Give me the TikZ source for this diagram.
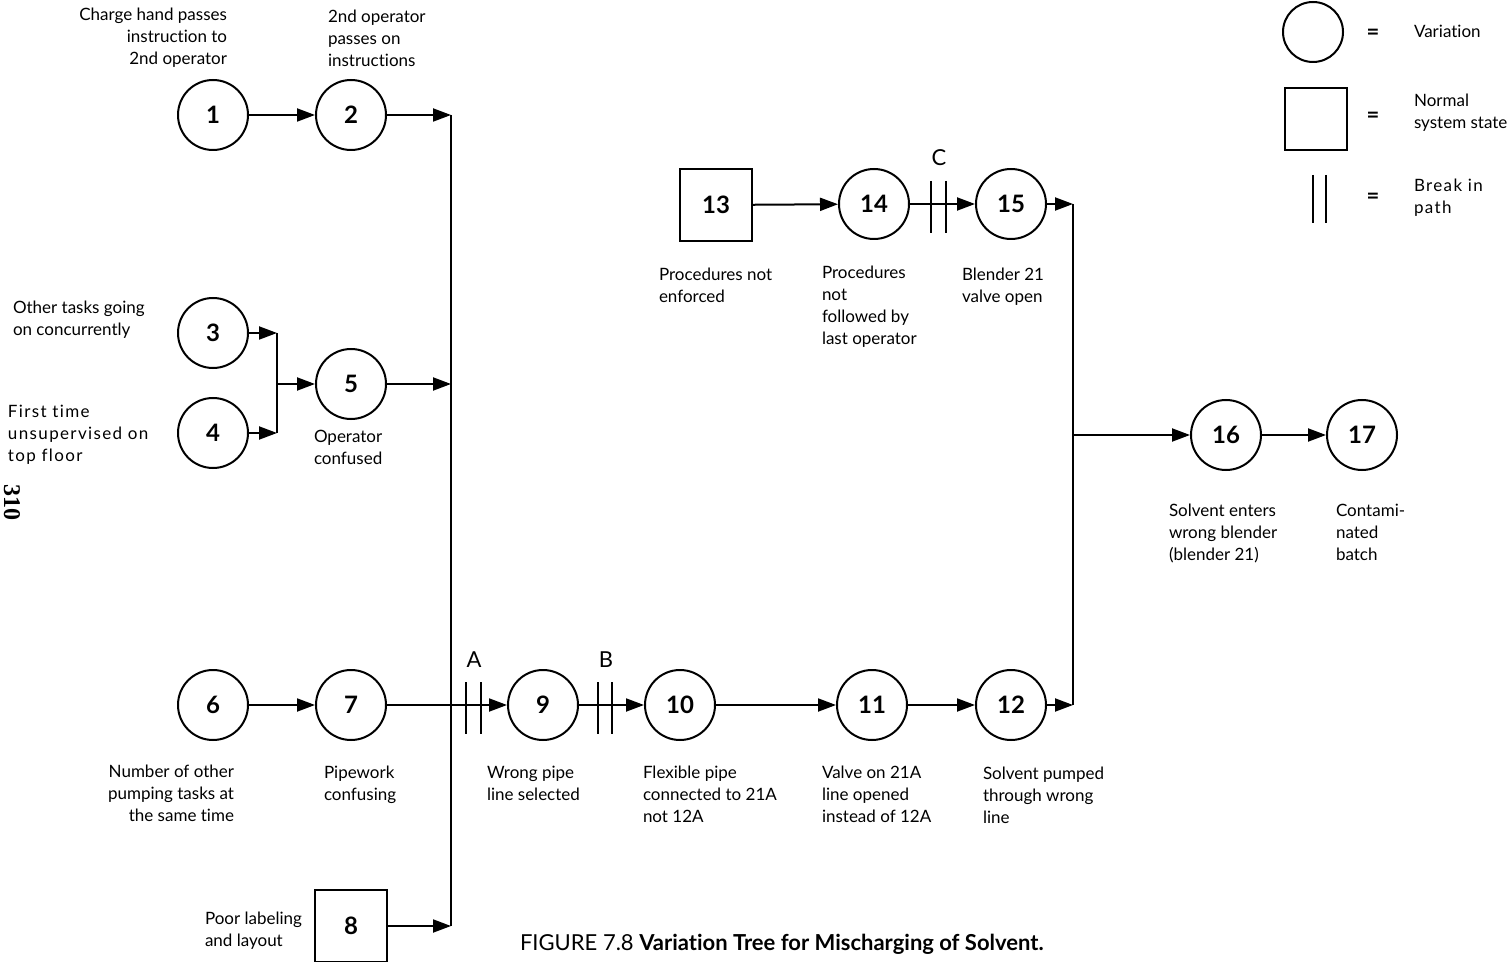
\documentclass[tikz,border=0pt]{standalone}
\usepackage{fontspec}
\setmainfont{Lato}[RawFeature={-liga}]
\usetikzlibrary{arrows.meta}
\begin{document}
\begin{tikzpicture}[x=0.5pt,y=-0.5pt,
  line width=1pt,
  arr/.style={-{Triangle[length=9pt,width=6.5pt]}},
  var/.style={circle,draw,line width=1pt,minimum size=35pt,inner sep=0pt,font=\fontsize{12}{12}\selectfont\bfseries},
  norm/.style={rectangle,draw,line width=1pt,minimum size=36pt,inner sep=0pt,font=\fontsize{12}{12}\selectfont\bfseries},
  lbl/.style={inner sep=0pt,anchor=north west,align=left,font=\fontsize{8.5}{11}\selectfont},
  lblr/.style={inner sep=0pt,anchor=north east,align=right,font=\fontsize{8.5}{11}\selectfont},
  brk/.style={line width=1pt},
  eq/.style={inner sep=0pt,font=\fontsize{11}{11}\selectfont\bfseries},
  letter/.style={inner sep=0pt,font=\fontsize{11}{11}\selectfont}]
\useasboundingbox (0,0) rectangle (1509,962);

% event nodes
\node[var] (n1) at (213,115) {1};
\node[var] (n2) at (351,115) {2};
\node[var] (n3) at (213,333) {3};
\node[var] (n4) at (213,433) {4};
\node[var] (n5) at (351,384) {5};
\node[var] (n6) at (213,705) {6};
\node[var] (n7) at (351,705) {7};
\node[norm] (n8) at (351,926) {8};
\node[var] (n9) at (543,705) {9};
\node[var] (n10) at (680,705) {10};
\node[var] (n11) at (872,705) {11};
\node[var] (n12) at (1011,705) {12};
\node[norm] (n13) at (716,205) {13};
\node[var] (n14) at (874,204) {14};
\node[var] (n15) at (1011,204) {15};
\node[var] (n16) at (1226,435) {16};
\node[var] (n17) at (1362,435) {17};

% junction points
\coordinate (b1) at (451,115);
\coordinate (b5) at (451,384);
\coordinate (b8) at (451,926);
\coordinate (j3) at (277,333);
\coordinate (j4) at (277,433);
\coordinate (j5) at (277,384);
\coordinate (r15) at (1073,204);
\coordinate (r12) at (1073,705);
\coordinate (r16) at (1073,435);

% connectors
\draw[arr] (n1) -- (n2);
\draw[arr] (n2) -- (b1);
\draw[arr] (n3) -- (j3);
\draw[arr] (n4) -- (j4);
\draw (j3) -- (j4);
\draw[arr] (j5) -- (n5);
\draw[arr] (n5) -- (b5);
\draw[arr] (n8) -- (b8);
\draw (b1) -- (b8);
\draw[arr] (n6) -- (n7);
\draw[arr] (n7) -- (n9);
\draw[arr] (n9) -- (n10);
\draw[arr] (n10) -- (n11);
\draw[arr] (n11) -- (n12);
\draw[arr] (n12) -- (r12);
\draw[arr] (n13) -- (n14);
\draw[arr] (n14) -- (n15);
\draw[arr] (n15) -- (r15);
\draw (r15) -- (r12);
\draw[arr] (r16) -- (n16);
\draw[arr] (n16) -- (n17);

% breaks in path
\draw[brk] (466,682) -- (466,734) (481,682) -- (481,734);
\node[letter] (la) at (474,660) {A};
\draw[brk] (598,682) -- (598,734) (612,682) -- (612,734);
\node[letter] (lb) at (606,660) {B};
\draw[brk] (931,181) -- (931,233) (946,181) -- (946,233);
\node[letter] (lc) at (939,158) {C};

% descriptions
\node[lblr] (t1) at (228,7) {Charge hand passes\\instruction to\\2nd operator};
\node[lbl] (t2) at (327,9) {2nd operator\\passes on\\instructions};
\node[lbl] (t3) at (12,300) {Other tasks going\\on concurrently};
\node[lbl,font=\fontsize{8.5}{11}\selectfont\addfontfeature{LetterSpace=8}] (t4) at (7,404) {First time\\unsupervised on\\top floor};
\node[lbl] (t5) at (313,429) {Operator\\confused};
\node[lblr] (t6) at (235,764) {Number of other\\pumping tasks at\\the same time};
\node[lbl] (t7) at (323,765) {Pipework\\confusing};
\node[lbl] (t8) at (204,911) {Poor labeling\\and layout};
\node[lbl] (t9) at (486,765) {Wrong pipe\\line selected};
\node[lbl] (t10) at (642,765) {Flexible pipe\\connected to 21A\\not 12A};
\node[lbl] (t11) at (821,765) {Valve on 21A\\line opened\\instead of 12A};
\node[lbl] (t12) at (982,766) {Solvent pumped\\through wrong\\line};
\node[lbl] (t13) at (658,267) {Procedures not\\enforced};
\node[lbl] (t14) at (821,265) {Procedures\\not\\followed by\\last operator};
\node[lbl] (t15) at (961,267) {Blender 21\\valve open};
\node[lbl] (t16) at (1168,503) {Solvent enters\\wrong blender\\(blender 21)};
\node[lbl] (t17) at (1335,503) {Contami-\\nated\\batch};

% legend
\node[circle,draw,line width=1pt,minimum size=30pt] (kv) at (1313,32) {};
\node[rectangle,draw,line width=1pt,minimum size=31pt] (kn) at (1316,119) {};
\draw[brk] (1313,175) -- (1313,223) (1326,175) -- (1326,223);
\node[eq] (e1) at (1373,34) {=};
\node[eq] (e2) at (1373,117) {=};
\node[eq] (e3) at (1373,198) {=};
\node[lbl] (kt1) at (1413,24) {Variation};
\node[lbl] (kt2) at (1413,93) {Normal\\system state};
\node[lbl,font=\fontsize{8.5}{11}\selectfont\addfontfeature{LetterSpace=8}] (kt3) at (1413,178) {Break in\\path};

% page number and caption
\node[inner sep=0pt,rotate=-90,font=\fontspec{Liberation Serif}\fontsize{12}{12}\selectfont\bfseries] (pg) at (12,502) {310};
\node[inner sep=0pt,anchor=base west,font=\fontsize{11}{11}\selectfont] (cap) at (519,950) {FIGURE 7.8 \textbf{Variation Tree for Mischarging of Solvent.}};
\end{tikzpicture}
\end{document}
